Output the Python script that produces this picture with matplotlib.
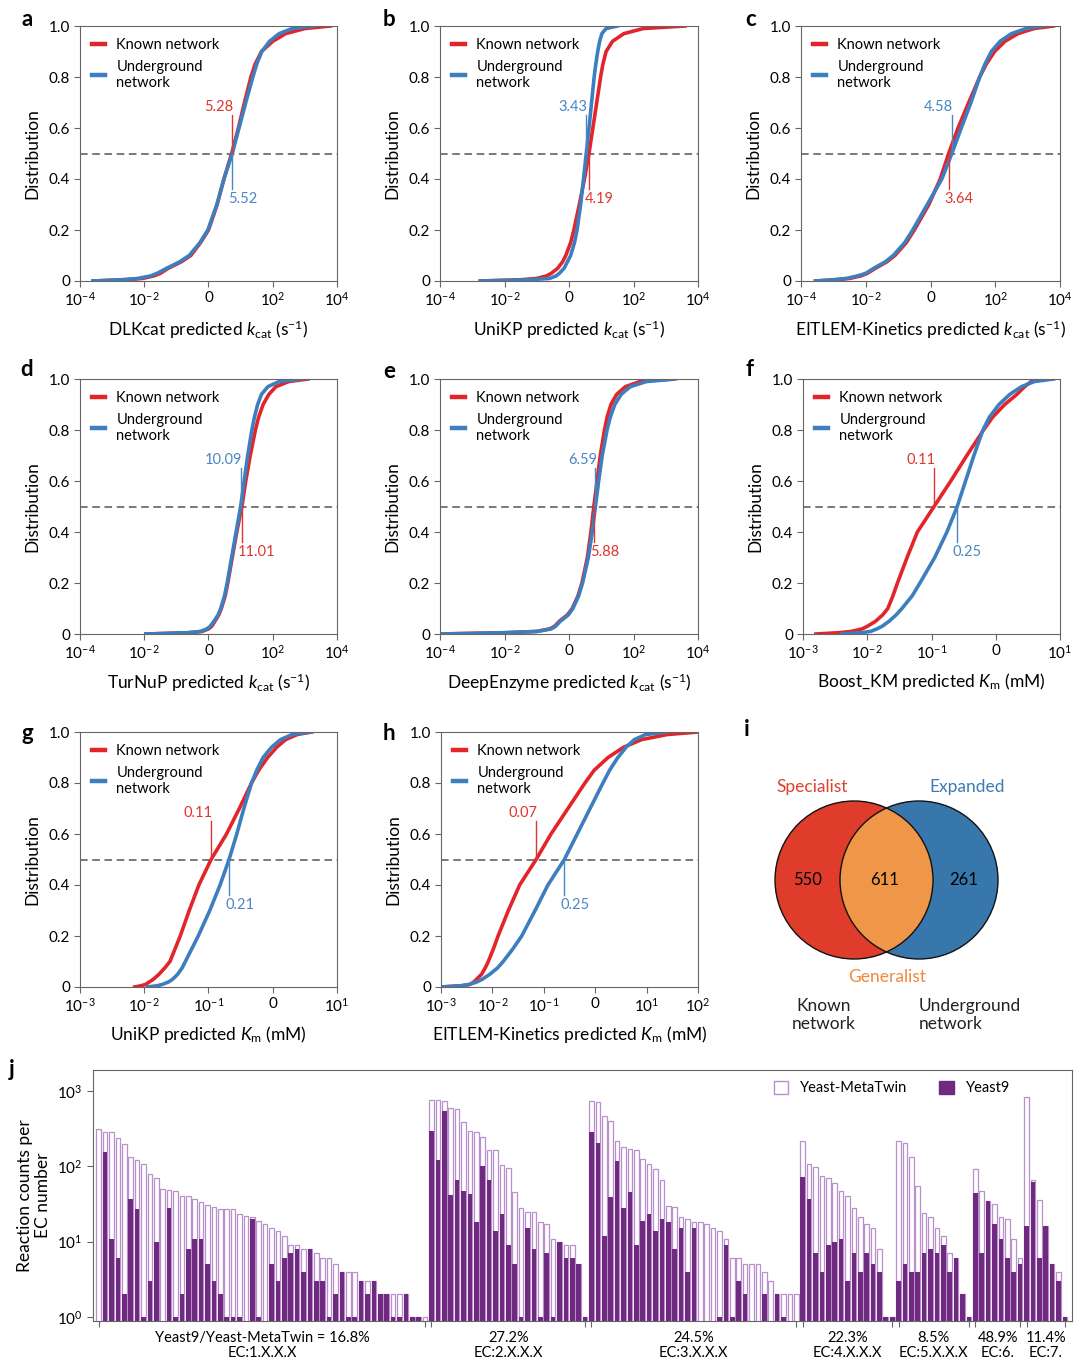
import numpy as np
import matplotlib
matplotlib.use('Agg')
import matplotlib.pyplot as plt
from matplotlib.patches import Circle, Patch
from matplotlib.ticker import NullLocator, FixedLocator

plt.rcParams['font.family'] = ['Lato', 'DejaVu Sans']
plt.rcParams['mathtext.fontset'] = 'custom'
plt.rcParams['mathtext.rm'] = 'Lato'
plt.rcParams['mathtext.it'] = 'Lato:italic'
plt.rcParams['mathtext.bf'] = 'Lato:bold'

RED = '#e2252b'
BLUE = '#3d7ebf'
RED_TXT = '#e0352f'
BLUE_TXT = '#4a86c4'
GREY = '#666666'
LIGHT_PURPLE = '#b98fcc'
DARK_PURPLE = '#6e2a7f'

cdf_levels = [0, 0.005, 0.01, 0.02, 0.03, 0.05, 0.075, 0.1, 0.15, 0.2, 0.3, 0.4, 0.5,
              0.6, 0.7, 0.8, 0.85, 0.9, 0.94, 0.97, 0.99, 1.0]

# log10 of predicted value at each level (known / underground network)
dlkcat_known = [-3.6, -2.6, -2.05, -1.7, -1.5, -1.25, -0.85, -0.55, -0.25, 0.0, 0.27, 0.48, 0.72,
                0.93, 1.12, 1.32, 1.45, 1.65, 2.0, 2.4, 3.0, 3.8]
dlkcat_under = [-3.6, -2.7, -2.2, -1.8, -1.6, -1.3, -0.9, -0.6, -0.27, -0.02, 0.26, 0.48, 0.74,
                0.95, 1.16, 1.38, 1.5, 1.66, 1.9, 2.2, 2.6, 3.3]
unikp_kcat_known = [-2.75, -1.5, -1.0, -0.7, -0.55, -0.35, -0.2, -0.1, 0.05, 0.15, 0.32, 0.48, 0.62,
                    0.74, 0.86, 0.98, 1.05, 1.15, 1.35, 1.7, 2.3, 3.6]
unikp_kcat_under = [-2.75, -1.2, -0.6, -0.4, -0.3, -0.15, -0.05, 0.05, 0.17, 0.25, 0.36, 0.45, 0.535,
                    0.62, 0.7, 0.78, 0.83, 0.89, 0.95, 1.02, 1.15, 1.5]
eitlem_kcat_known = [-3.55, -2.9, -2.5, -2.15, -1.95, -1.7, -1.35, -1.1, -0.75, -0.5, -0.05, 0.3, 0.56,
                     0.85, 1.18, 1.52, 1.72, 1.98, 2.3, 2.7, 3.2, 3.8]
eitlem_kcat_under = [-3.55, -3.0, -2.6, -2.25, -2.0, -1.75, -1.4, -1.15, -0.8, -0.55, -0.1, 0.35, 0.66,
                     0.95, 1.25, 1.52, 1.68, 1.88, 2.15, 2.5, 2.95, 3.5]
turnup_known = [-1.95, -0.6, -0.2, 0.0, 0.1, 0.2, 0.32, 0.4, 0.52, 0.6, 0.74, 0.88, 1.04,
                1.16, 1.3, 1.46, 1.56, 1.7, 1.88, 2.1, 2.5, 3.1]
turnup_under = [-1.95, -0.65, -0.25, -0.05, 0.05, 0.17, 0.3, 0.38, 0.5, 0.58, 0.72, 0.86, 1.0,
                1.11, 1.22, 1.35, 1.43, 1.53, 1.65, 1.85, 2.2, 2.9]
deepenz_known = [-4.0, -2.0, -1.0, -0.6, -0.45, -0.3, -0.05, 0.1, 0.28, 0.4, 0.57, 0.68, 0.77,
                 0.87, 0.97, 1.1, 1.18, 1.3, 1.48, 1.75, 2.2, 3.2]
deepenz_under = [-4.0, -2.0, -1.0, -0.55, -0.42, -0.27, -0.02, 0.12, 0.3, 0.42, 0.6, 0.72, 0.82,
                 0.92, 1.03, 1.18, 1.28, 1.42, 1.62, 1.9, 2.4, 3.3]
boostkm_known = [-2.8, -2.45, -2.25, -2.08, -2.0, -1.87, -1.76, -1.68, -1.6, -1.53, -1.38, -1.22, -0.96,
                 -0.7, -0.45, -0.19, -0.05, 0.14, 0.33, 0.45, 0.55, 0.7]
boostkm_under = [-2.4, -2.1, -1.95, -1.85, -1.77, -1.66, -1.55, -1.46, -1.3, -1.18, -0.95, -0.76, -0.6,
                 -0.47, -0.34, -0.2, -0.1, 0.05, 0.22, 0.4, 0.6, 0.9]
unikp_km_known = [-2.15, -2.05, -1.98, -1.92, -1.86, -1.77, -1.68, -1.6, -1.52, -1.44, -1.3, -1.15, -0.96,
                  -0.72, -0.52, -0.33, -0.22, -0.08, 0.06, 0.2, 0.38, 0.6]
unikp_km_under = [-1.95, -1.8, -1.72, -1.62, -1.56, -1.48, -1.41, -1.36, -1.26, -1.16, -0.98, -0.82, -0.68,
                  -0.56, -0.45, -0.33, -0.25, -0.15, -0.02, 0.12, 0.3, 0.6]
eitlem_km_known = [-3.0, -2.6, -2.44, -2.36, -2.31, -2.21, -2.14, -2.08, -1.98, -1.89, -1.69, -1.47, -1.15,
                   -0.86, -0.53, -0.2, -0.02, 0.25, 0.55, 0.9, 1.4, 2.0]
eitlem_km_under = [-3.0, -2.6, -2.45, -2.3, -2.2, -2.05, -1.9, -1.79, -1.6, -1.43, -1.17, -0.92, -0.6,
                   -0.35, -0.1, 0.15, 0.28, 0.44, 0.6, 0.76, 0.98, 1.4]

# medians written on the panels
median_known = [5.28, 4.19, 3.64, 11.01, 5.88, 0.11, 0.11, 0.07]
median_under = [5.52, 3.43, 4.58, 10.09, 6.59, 0.25, 0.21, 0.25]
known_on_top = [True, False, False, False, False, True, True, True]

# venn counts
venn_counts = [550, 611, 261]

# panel j: reaction counts per EC number
ec1_metatwin = [310, 285, 285, 238, 200, 133, 121, 107, 79, 69, 50, 48, 47, 40, 40, 37, 34, 31, 29, 27,
                27, 27, 23, 22, 21, 19, 17, 15, 14, 12, 9, 9, 8, 8, 7, 6, 6, 5, 4, 4, 4, 3, 3, 3, 2, 2,
                2, 2, 2, 1, 1, 1]
ec1_yeast9 = [0, 155, 11, 6, 2, 37, 27, 1, 3, 10, 0, 28, 1, 2, 8, 11, 11, 5, 3, 2, 1, 1, 1, 0, 20,
              1, 0, 5, 3, 6, 7, 8, 4, 8, 3, 3, 1, 2, 4, 1, 1, 3, 2, 3, 2, 2, 1, 1, 2, 1, 1, 0]
ec2_metatwin = [767, 767, 745, 590, 577, 388, 298, 283, 245, 165, 165, 104, 96, 45, 28, 25, 25, 18, 17,
                11, 10, 9, 9, 5, 1]
ec2_yeast9 = [291, 122, 537, 42, 65, 47, 43, 18, 102, 66, 14, 23, 9, 5, 1, 15, 8, 1, 7, 1, 10, 6, 6, 5, 1]
ec3_metatwin = [738, 707, 470, 400, 216, 181, 170, 165, 125, 108, 92, 66, 30, 29, 21, 20, 18, 18, 17,
                15, 14, 11, 6, 6, 5, 5, 5, 4, 3, 2, 2, 2, 2]
ec3_yeast9 = [286, 203, 12, 39, 119, 28, 46, 9, 19, 23, 14, 20, 18, 8, 15, 4, 15, 0, 0, 0, 1, 9, 1, 3,
              2, 0, 0, 2, 0, 2, 1, 0, 0]
ec4_metatwin = [214, 108, 98, 74, 69, 61, 47, 40, 28, 21, 17, 15, 8, 1, 1]
ec4_yeast9 = [73, 37, 7, 4, 9, 10, 11, 3, 7, 4, 7, 5, 4, 1, 1]
ec5_metatwin = [214, 204, 134, 54, 24, 21, 15, 12, 7, 6, 2, 1]
ec5_yeast9 = [3, 5, 4, 4, 7, 8, 7, 9, 4, 6, 2, 1]
ec6_metatwin = [92, 47, 35, 32, 21, 20, 11, 6]
ec6_yeast9 = [44, 7, 35, 17, 11, 6, 4, 5]
ec7_metatwin = [826, 66, 36, 16, 5, 4, 1]
ec7_yeast9 = [16, 62, 6, 16, 5, 3, 1]

ec_names = ['EC:1.X.X.X', 'EC:2.X.X.X', 'EC:3.X.X.X', 'EC:4.X.X.X', 'EC:5.X.X.X', 'EC:6.', 'EC:7.']
ec_ratios = ['Yeast9/Yeast-MetaTwin = 16.8%', '27.2%', '24.5%', '22.3%', '8.5%', '48.9%', '11.4%']

W, H = 1080, 1368


def box(x0, y0, x1, y1):
    # pixel box (top-left origin) -> figure fraction rect
    return [x0 / W, 1 - y1 / H, (x1 - x0) / W, (y1 - y0) / H]


def pow_label(e):
    if e == 0:
        return '0'
    return r'10$^{%d}$' % e


def cdf_panel(fig, rect, known, under, xlim, xlabel, mk, mu, known_top):
    ax = fig.add_axes(rect)
    ax.plot(known, cdf_levels, color=RED, lw=2.6, solid_joinstyle='round', label='Known network')
    ax.plot(under, cdf_levels, color=BLUE, lw=2.6, solid_joinstyle='round', label='Underground\nnetwork')
    ax.axhline(0.5, color='#555555', lw=1.1, ls=(0, (5, 3)), zorder=1)
    ax.set_xlim(*xlim)
    ax.set_ylim(0, 1.0)
    if xlim[1] - xlim[0] == 8:
        ticks = list(range(xlim[0], xlim[1] + 1, 2))
    else:
        ticks = list(range(xlim[0], xlim[1] + 1))
    ax.set_xticks(ticks, [pow_label(t) for t in ticks])
    ax.set_yticks([0, 0.2, 0.4, 0.6, 0.8, 1.0], ['0', '0.2', '0.4', '0.6', '0.8', '1.0'])
    ax.tick_params(labelsize=11, length=4, width=0.8, color=GREY, pad=3)
    for s in ax.spines.values():
        s.set_color(GREY)
        s.set_linewidth(0.8)
    ax.set_ylabel('Distribution', fontsize=12.5, labelpad=6)
    ax.set_xlabel(xlabel, fontsize=12.5, labelpad=7)
    leg = ax.legend(loc='upper left', frameon=False, fontsize=10.5, handlelength=0.9,
                    handletextpad=0.8, borderaxespad=0.4, labelspacing=0.55)
    for h in leg.legend_handles:
        h.set_linewidth(3.2)

    # median markers
    top_val, top_col = (mk, RED_TXT) if known_top else (mu, BLUE_TXT)
    bot_val, bot_col = (mu, BLUE_TXT) if known_top else (mk, RED_TXT)
    xt = np.log10(top_val)
    xb = np.log10(bot_val)
    ax.plot([xt, xt], [0.5, 0.65], color=top_col, lw=1.0)
    ax.plot([xb, xb], [0.5, 0.36], color=bot_col, lw=1.0)
    ax.annotate('%g' % top_val if top_val >= 1 else '%.2f' % top_val, (xt, 0.655),
                xytext=(1, 0), textcoords='offset points', ha='right', va='bottom',
                color=top_col, fontsize=10.5)
    ax.annotate('%.2f' % bot_val, (xb, 0.35), xytext=(-3, 0), textcoords='offset points',
                ha='left', va='top', color=bot_col, fontsize=10.5)
    return ax


def venn_panel(fig):
    ax = fig.add_axes(box(740, 730, 1075, 1050))
    ax.set_xlim(740, 1075)
    ax.set_ylim(1050, 730)
    ax.axis('off')
    r = 79
    cl = (854, 880)
    cr = (919, 880)
    left = Circle(cl, r, facecolor='#df3c2b', edgecolor='none')
    right = Circle(cr, r, facecolor='#3777ab', edgecolor='none')
    ax.add_patch(left)
    ax.add_patch(right)
    lens = Circle(cr, r, facecolor='#ef9649', edgecolor='none')
    ax.add_patch(lens)
    lens.set_clip_path(left)
    ax.add_patch(Circle(cl, r, fill=False, edgecolor='#111111', lw=1.0))
    ax.add_patch(Circle(cr, r, fill=False, edgecolor='#111111', lw=1.0))
    ax.text(808, 880, str(venn_counts[0]), ha='center', va='center', fontsize=12)
    ax.text(885, 880, str(venn_counts[1]), ha='center', va='center', fontsize=12)
    ax.text(964, 880, str(venn_counts[2]), ha='center', va='center', fontsize=12)
    ax.text(812, 787, 'Specialist', ha='center', va='center', fontsize=12.5, color='#e0402f')
    ax.text(967, 787, 'Expanded', ha='center', va='center', fontsize=12.5, color='#3c7cb5')
    ax.text(887, 977, 'Generalist', ha='center', va='center', fontsize=12.5, color='#f0883e')
    ax.text(824, 1015, 'Known\nnetwork', ha='center', va='center', fontsize=12.5,
            color='#222222', linespacing=1.1)
    ax.text(919, 1015, 'Underground\nnetwork', ha='left', va='center', fontsize=12.5,
            color='#222222', linespacing=1.1)


def ec_panel(fig):
    ax = fig.add_axes(box(93, 1070, 1072, 1321))
    totals = [ec1_metatwin, ec2_metatwin, ec3_metatwin, ec4_metatwin, ec5_metatwin, ec6_metatwin, ec7_metatwin]
    yeasts = [ec1_yeast9, ec2_yeast9, ec3_yeast9, ec4_yeast9, ec5_yeast9, ec6_yeast9, ec7_yeast9]
    total = np.concatenate([np.array(t, float) for t in totals])
    yeast = np.concatenate([np.array(t, float) for t in yeasts])
    x = np.arange(len(total))
    ax.set_yscale('log')
    ax.bar(x, total, width=0.72, facecolor='white', edgecolor=LIGHT_PURPLE, lw=0.9)
    ax.bar(x, np.where(yeast > 0, yeast, np.nan), width=0.72, color=DARK_PURPLE, lw=0)
    ax.set_xlim(-0.9, len(total) + 0.1)
    ax.set_ylim(0.885, 1900)
    ax.yaxis.set_minor_locator(NullLocator())
    ax.set_yticks([1, 10, 100, 1000])

    ticks = []
    start = 0
    centers = []
    for t in totals:
        end = start + len(t) - 1
        ticks += [start, end]
        centers.append((start + end) / 2)
        start = end + 1
    ax.xaxis.set_major_locator(FixedLocator(ticks))
    ax.set_xticklabels([''] * len(ticks))
    ax.tick_params(axis='x', length=4, width=0.8, color=GREY)
    ax.tick_params(axis='y', labelsize=11, length=4, width=0.8, color=GREY)
    for c, r, n in zip(centers, ec_ratios, ec_names):
        ax.annotate(r + '\n' + n, (c, 0), xycoords=('data', 'axes fraction'),
                    xytext=(0, -7), textcoords='offset points', ha='center', va='top',
                    fontsize=10.5, linespacing=1.15)
    for s in ax.spines.values():
        s.set_color(GREY)
        s.set_linewidth(0.8)
    ax.set_ylabel('Reaction counts per\nEC number', fontsize=12.5, labelpad=4, linespacing=1.2)
    handles = [Patch(facecolor='white', edgecolor=LIGHT_PURPLE, lw=1.0),
               Patch(facecolor=DARK_PURPLE, edgecolor=DARK_PURPLE)]
    ax.legend(handles, ['Yeast-MetaTwin', 'Yeast9'], ncol=2, loc='upper right',
              bbox_to_anchor=(0.95, 1.01), frameon=False, fontsize=10.5,
              handlelength=1.0, handleheight=1.0, columnspacing=2.2, handletextpad=0.8)


def main():
    fig = plt.figure(figsize=(W / 100, H / 100), dpi=100)

    kcat = r'predicted $k_{\mathrm{cat}}$ (s$^{-1}$)'
    km = r'predicted $K_{\mathrm{m}}$ (mM)'
    panels = [
        (box(80, 26, 337, 281), dlkcat_known, dlkcat_under, (-4, 4), 'DLKcat ' + kcat),
        (box(440, 26, 698, 281), unikp_kcat_known, unikp_kcat_under, (-4, 4), 'UniKP ' + kcat),
        (box(801, 26, 1060, 281), eitlem_kcat_known, eitlem_kcat_under, (-4, 4), 'EITLEM-Kinetics ' + kcat),
        (box(80, 379, 337, 634), turnup_known, turnup_under, (-4, 4), 'TurNuP ' + kcat),
        (box(440, 379, 698, 634), deepenz_known, deepenz_under, (-4, 4), 'DeepEnzyme ' + kcat),
        (box(803, 379, 1060, 634), boostkm_known, boostkm_under, (-3, 1), 'Boost_KM ' + km),
        (box(80, 732, 337, 987), unikp_km_known, unikp_km_under, (-3, 1), 'UniKP ' + km),
        (box(441, 732, 698, 987), eitlem_km_known, eitlem_km_under, (-3, 2), 'EITLEM-Kinetics ' + km),
    ]
    for i, (rect, kn, un, xlim, xlabel) in enumerate(panels):
        cdf_panel(fig, rect, kn, un, xlim, xlabel, median_known[i], median_under[i], known_on_top[i])

    venn_panel(fig)
    ec_panel(fig)

    letters = [('a', 27, 20), ('b', 389, 20), ('c', 751, 20), ('d', 27, 370), ('e', 389, 372),
               ('f', 749, 370), ('g', 27, 733), ('h', 389, 733), ('i', 747, 730), ('j', 12, 1070)]
    for l, px, py in letters:
        fig.text(px / W, 1 - py / H, l, fontsize=16, fontweight='bold', ha='center', va='center')

    fig.savefig('out.png', dpi=100)


if __name__ == '__main__':
    main()
